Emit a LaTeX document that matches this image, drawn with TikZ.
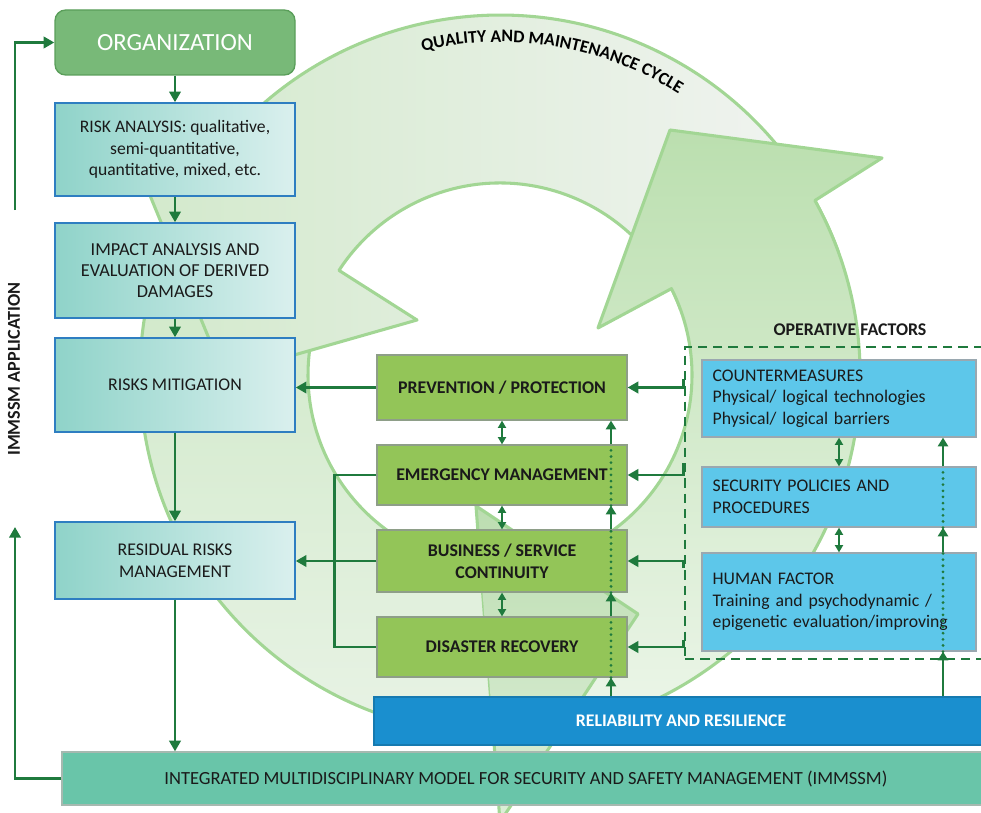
\documentclass[tikz,border=0pt]{standalone}
\usepackage{fontspec}
\setmainfont{Carlito}
\usetikzlibrary{arrows.meta,calc,decorations.text}
\definecolor{dg}{HTML}{1F7A3D}
\definecolor{orgc}{HTML}{78B978}
\definecolor{orgd}{HTML}{5A9E5A}
\definecolor{teal1}{HTML}{8FD3C9}
\definecolor{teal2}{HTML}{DAF0EE}
\definecolor{tedge}{HTML}{2E7EC1}
\definecolor{gfill}{HTML}{93C558}
\definecolor{gedge}{HTML}{8E9E88}
\definecolor{bfill}{HTML}{5DC7EA}
\definecolor{bedge}{HTML}{9AA8B0}
\definecolor{relc}{HTML}{1A8FCF}
\definecolor{immc}{HTML}{69C5A9}
\definecolor{immedge}{HTML}{A6B9B0}
\definecolor{ringc}{HTML}{A2D694}
\definecolor{lA}{HTML}{CCE7C4}
\definecolor{lB}{HTML}{E8F3E5}
\definecolor{tA}{HTML}{D2E9CB}
\definecolor{tB}{HTML}{F2F4F2}
\definecolor{rA}{HTML}{BBDFAF}
\definecolor{rB}{HTML}{EDF6EA}
\definecolor{hA}{HTML}{BCDDB1}
\definecolor{hB}{HTML}{DDEFD8}
\definecolor{txt}{HTML}{1A1A1A}
\begin{document}
\begin{tikzpicture}[x=0.75pt,y=-0.75pt,
  ring/.style={draw=ringc,line width=2.3pt,line join=round},
  tbox/.style={draw=tedge,line width=1.1pt,left color=teal1,right color=teal2,
    minimum width=180pt,text=txt,align=center,inner sep=2pt,
    font=\fontsize{13.4}{16.5}\selectfont},
  gbox/.style={draw=gedge,line width=0.9pt,fill=gfill,minimum width=187.5pt,
    text=txt,align=center,inner sep=2pt,font=\bfseries\fontsize{13.4}{16.5}\selectfont},
  bbox/.style={draw=bedge,line width=0.9pt,fill=bfill,inner xsep=8pt,inner ysep=2pt,
    text width=189.5pt,align=left,text=txt,font=\fontsize{13.3}{16.1}\selectfont},
  arr/.style={draw=dg,line width=2.2pt,-{Triangle[length=8pt,width=8.5pt]}},
  arrs/.style={draw=dg,line width=1.9pt,-{Triangle[length=6.5pt,width=7.5pt]}},
  darr/.style={draw=dg,line width=1.4pt,{Triangle[length=5.5pt,width=6pt]}-{Triangle[length=5.5pt,width=6pt]}},
  ln/.style={draw=dg,line width=2.2pt},
  dotl/.style={draw=dg,line width=2.3pt,line cap=round,dash pattern=on 0pt off 4.6pt}]
\useasboundingbox (0,0) rectangle (981,813);
\coordinate (C) at (500,375);
% ---- background cycle ----
% left / bottom arrow body
\path[ring,top color=lA,bottom color=lB]
  ($(C)+(-150:360)$) arc[start angle=-150,end angle=-268.95,radius=360]
  -- ($(C)+(-264.2:192)$) arc[start angle=-264.2,end angle=-150,radius=192] -- cycle;
% top arrow
\path[ring,left color=tA,right color=tB]
  (339,270.4) -- (417,320) -- (224,375) -- (123,130) -- (198.1,179.0)
  arc[start angle=-147,end angle=-20,radius=360]
  -- ($(C)+(-20:192)$) arc[start angle=-20,end angle=-147,radius=192] -- cycle;
% right arrow
\path[ring,top color=rA,bottom color=rB]
  (671.5,288.6) -- (598,328) -- (670,130) -- (882,158) -- (814.9,200.5)
  arc[start angle=-29,end angle=88,radius=360]
  -- ($(C)+(88:192)$) arc[start angle=88,end angle=-26.7,radius=192] -- cycle;
% head of the left / bottom arrow
\path[top color=hA,bottom color=hB] (493.4,735) -- (500,822) -- (638,614) -- (476,506) -- (480.6,567) -- cycle;
\draw[ring] (493.4,735) -- (500,822) -- (638,614) -- (476,506) -- (480.6,567);
\path[decorate,decoration={text along path,text align=center,
  text={|\bfseries\fontsize{13.3}{13}\selectfont|QUALITY AND MAINTENANCE CYCLE}}]
  ($(C)+(-110:333)$) arc[start angle=-110,end angle=-51,radius=333];
% ---- left column ----
\node[draw=orgd,line width=1pt,fill=orgc,rounded corners=8pt,minimum width=180pt,
  minimum height=48.75pt,text=white,font=\fontsize{18.5}{22}\selectfont] (org) at (175,42.5) {ORGANIZATION};
\node[tbox,minimum height=69.75pt,font=\fontsize{13.2}{16.3}\selectfont] (ra) at (175,149.5)
  {RISK ANALYSIS: qualitative,\\semi-quantitative,\\quantitative, mixed, etc.};
\node[tbox,minimum height=71.25pt,font=\fontsize{13.7}{15.9}\selectfont] (ia) at (175,270.5)
  {IMPACT ANALYSIS AND\\EVALUATION OF DERIVED\\DAMAGES};
\node[tbox,minimum height=70.5pt] (rm) at (175,385) {RISKS MITIGATION};
\node[tbox,minimum height=57.75pt] (rr) at (175,560.5) {RESIDUAL RISKS\\MANAGEMENT};
% ---- middle column ----
\node[gbox,minimum height=48.75pt] (pp) at (502,387.5) {PREVENTION / PROTECTION};
\node[gbox,minimum height=45pt] (em) at (502,475) {EMERGENCY MANAGEMENT};
\node[gbox,minimum height=46.5pt] (bs) at (502,561) {BUSINESS / SERVICE\\CONTINUITY};
\node[gbox,minimum height=45pt] (dr) at (502,647) {DISASTER RECOVERY};
% ---- operative factors ----
\node[draw=dg,dash pattern=on 7pt off 4.5pt,line width=1.8pt,minimum width=236.25pt,
  minimum height=234pt] (opf) at (842.5,503) {};
\node[font=\bfseries\fontsize{13.4}{15}\selectfont,text=txt] (opl) at (850,330) {OPERATIVE FACTORS};
\node[bbox,minimum height=57.75pt] (cm) at (839,398.5)
  {COUNTERMEASURES\\Physical/ logical technologies\\Physical/ logical barriers};
\node[bbox,minimum height=45pt] (sp) at (839,497) {SECURITY POLICIES AND\\PROCEDURES};
\node[bbox,minimum height=73.5pt] (hf) at (839,602)
  {HUMAN FACTOR\\Training and psychodynamic /\\epigenetic evaluation/improving};
% ---- bottom bars ----
\node[draw=relc!85!black,line width=0.8pt,fill=relc,minimum width=460.5pt,minimum height=36pt,
  text=white,font=\bfseries\fontsize{13.3}{15}\selectfont] (rel) at (681,721) {RELIABILITY AND RESILIENCE};
\node[draw=immedge,line width=0.9pt,fill=immc,minimum width=696pt,minimum height=39.75pt,
  text=txt,font=\fontsize{13.9}{15}\selectfont] (imm) at (526,778.5)
  {INTEGRATED MULTIDISCIPLINARY MODEL FOR SECURITY AND SAFETY MANAGEMENT (IMMSSM)};
\node[rotate=90,text=txt,font=\bfseries\fontsize{13.6}{15}\selectfont] (app) at (14,369) {IMMSSM APPLICATION};
% ---- connectors ----
\draw[arr] (org.south) -- (ra.north);
\draw[arr] (ra.south) -- (ia.north);
\draw[arr] (ia.south) -- (rm.north);
\draw[arr] (rm.south) -- (rr.north);
\draw[arr] (rr.south) -- (rr.south |- imm.north);
\draw[arr] (pp.west) -- (pp.west -| rm.east);
\draw[arr] (bs.west) -- (bs.west -| rr.east);
\draw[ln] (em.west) -| ($(dr.west)+(-42,0)$) -- (dr.west);
\draw[darr] (pp.south) -- (pp.south |- em.north);
\draw[darr] (em.south) -- (em.south |- bs.north);
\draw[darr] (bs.south) -- (bs.south |- dr.north);
\draw[darr] (cm.south) -- (cm.south |- sp.north);
\draw[darr] (sp.south) -- (sp.south |- hf.north);
\coordinate (vg) at (611,0);
\draw[arrs] (vg |- rel.north) -- (vg |- dr.south);
\draw[dotl] (vg |- dr.south) -- (vg |- dr.north);
\draw[arrs] (vg |- dr.north) -- (vg |- bs.south);
\draw[dotl] (vg |- bs.south) -- (vg |- bs.north);
\draw[arrs] (vg |- bs.north) -- (vg |- em.south);
\draw[dotl] (vg |- em.south) -- (vg |- em.north);
\draw[arrs] (vg |- em.north) -- (vg |- pp.south);
\coordinate (vb) at (943,0);
\draw[arrs] (vb |- rel.north) -- (vb |- hf.south);
\draw[dotl] (vb |- hf.south) -- (vb |- hf.north);
\draw[arrs] (vb |- hf.north) -- (vb |- sp.south);
\draw[dotl] (vb |- sp.south) -- (vb |- sp.north);
\draw[arrs] (vb |- sp.north) -- (vb |- cm.south);
\draw[arr] ($(opf.west |- pp.east)+(0,-9)$) -- (opf.west |- pp.east) -- (pp.east);
\draw[arr] ($(opf.west |- em.east)+(0,-12)$) -- (opf.west |- em.east) -- (em.east);
\draw[arr] ($(opf.west |- bs.east)+(0,7)$) -- (opf.west |- bs.east) -- (bs.east);
\draw[arr] ($(opf.west |- dr.east)+(0,-7)$) -- (opf.west |- dr.east) -- (dr.east);
\coordinate (lt) at (15,210);
\draw[arr] (lt) |- (org.west);
\coordinate (lb) at (15,527);
\draw[arr] (imm.west) -| (lb);
\end{tikzpicture}
\end{document}
